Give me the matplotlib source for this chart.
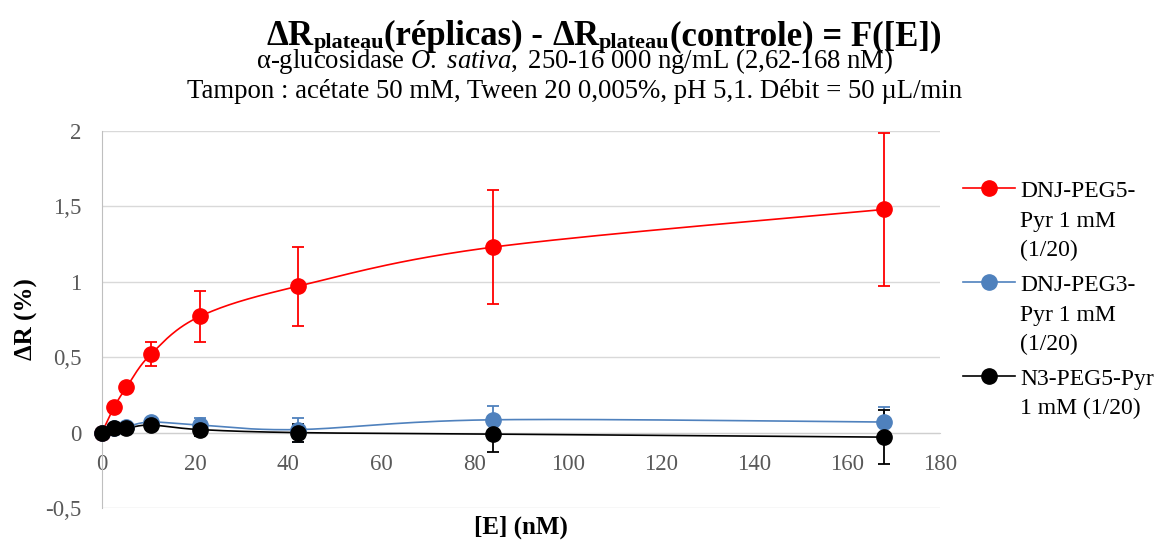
import numpy as np
import matplotlib
matplotlib.use("Agg")
import matplotlib.pyplot as plt
from matplotlib.lines import Line2D

# data
conc_nM = [0, 2.62, 5.25, 10.5, 21, 42, 84, 168]

peg5_dnj = [0, 0.17, 0.30, 0.52, 0.77, 0.97, 1.23, 1.48]
peg5_dnj_err = [0, 0.0, 0.0, 0.08, 0.17, 0.26, 0.38, 0.51]

peg3_dnj = [0, 0.03, 0.04, 0.07, 0.05, 0.02, 0.085, 0.07]
peg3_dnj_err = [0, 0.01, 0.01, 0.03, 0.05, 0.08, 0.09, 0.10]

n3_peg5 = [0, 0.03, 0.03, 0.05, 0.02, 0.0, -0.01, -0.03]
n3_peg5_err = [0, 0.01, 0.01, 0.03, 0.04, 0.06, 0.12, 0.18]

labels = [["DNJ-PEG5-", "Pyr 1 mM", "(1/20)"],
          ["DNJ-PEG3-", "Pyr 1 mM", "(1/20)"],
          ["N3-PEG5-Pyr", "1 mM (1/20)"]]
colors = ["#ff0000", "#4f81bd", "#000000"]

plt.rcParams["font.family"] = ["Liberation Serif", "DejaVu Serif"]
plt.rcParams["mathtext.fontset"] = "custom"
plt.rcParams["mathtext.rm"] = "Liberation Serif"
plt.rcParams["mathtext.bf"] = "Liberation Serif:bold"
plt.rcParams["mathtext.it"] = "Liberation Serif:italic"


def smooth(x, y, n=30):
    # Excel-like smoothed line (bezier through the points)
    x = np.asarray(x, float)
    y = np.asarray(y, float)
    px, py = [], []
    for i in range(len(x) - 1):
        x0, y0 = (x[i - 1], y[i - 1]) if i > 0 else (x[i], y[i])
        x3, y3 = (x[i + 2], y[i + 2]) if i + 2 < len(x) else (x[i + 1], y[i + 1])
        c1x = x[i] + (x[i + 1] - x0) / 6
        c1y = y[i] + (y[i + 1] - y0) / 6
        c2x = x[i + 1] - (x3 - x[i]) / 6
        c2y = y[i + 1] - (y3 - y[i]) / 6
        t = np.linspace(0, 1, n)
        px.extend((1 - t) ** 3 * x[i] + 3 * (1 - t) ** 2 * t * c1x + 3 * (1 - t) * t ** 2 * c2x + t ** 3 * x[i + 1])
        py.extend((1 - t) ** 3 * y[i] + 3 * (1 - t) ** 2 * t * c1y + 3 * (1 - t) * t ** 2 * c2y + t ** 3 * y[i + 1])
    return px, py


W, H = 1159, 542
fig = plt.figure(figsize=(W / 100, H / 100), dpi=100)
ax = fig.add_axes([102 / W, 1 - 508 / H, 838 / W, 377 / H])

series = [(peg5_dnj, peg5_dnj_err), (peg3_dnj, peg3_dnj_err), (n3_peg5, n3_peg5_err)]
for (vals, errs), col in zip(series, colors):
    sx, sy = smooth(conc_nM, vals)
    ax.plot(sx, sy, color=col, lw=1.2, zorder=3)
    ax.errorbar(conc_nM, vals, yerr=errs, fmt="none", ecolor=col, elinewidth=1.3,
                capsize=4.3, capthick=1.3, zorder=4)
    ax.plot(conc_nM, vals, "o", color=col, ms=11, zorder=5, clip_on=False)

ax.set_xlim(0, 180)
ax.set_ylim(-0.5, 2)
ax.set_xticks(np.arange(0, 181, 20))
ax.set_yticks([-0.5, 0, 0.5, 1, 1.5, 2])
ax.set_yticklabels(["-0,5", "0", "0,5", "1", "1,5", "2"])
ax.grid(axis="y", color="#d9d9d9", lw=1.0, zorder=0)
ax.set_axisbelow(True)

ax.spines["bottom"].set_position(("data", 0))
ax.spines["top"].set_visible(False)
ax.spines["right"].set_visible(False)
ax.spines["bottom"].set_color("#cfcfcf")
ax.spines["left"].set_color("#bfbfbf")
ax.spines["bottom"].set_zorder(1)
ax.tick_params(axis="both", length=0, labelsize=16.5, labelcolor="#595959")
ax.tick_params(axis="x", pad=15.5)
ax.tick_params(axis="y", pad=15)

ax.set_ylabel("ΔR (%)", fontsize=18, fontweight="bold")
ax.yaxis.set_label_coords(-0.076, 0.5)
fig.text(521 / W, 1 - 527 / H, "[E] (nM)", ha="center", va="center", fontsize=18, fontweight="bold")

# title line 1, laid out piece by piece (big subscripts like the Excel title)
title_pieces = [("ΔR", 25, 0), ("plateau", 16, 3), ("(réplicas) -", 25, 0), (None, 0, 0),
                ("ΔR", 25, 0), ("plateau", 16, 3), ("(controle) = F([E])", 25, 0)]
renderer = fig.canvas.get_renderer()
space_px = 0.25 * 25 * 100 / 72
made, total = [], 0.0
for txt, size, dy in title_pieces:
    if txt is None:
        made.append((None, space_px, 0))
        total += space_px
        continue
    t = fig.text(0, 0, txt, fontsize=size, fontweight="bold", va="baseline", ha="left")
    w = t.get_window_extent(renderer).width
    made.append((t, w, dy))
    total += w
x_px = 604 - total / 2
for t, w, dy in made:
    if t is not None:
        t.set_position((x_px / W, 1 - (45 + dy) / H))
    x_px += w

fig.text(575 / W, 1 - 68 / H, r"α-glucosidase $\mathit{O.\ sativa,}$ 250-16 000 ng/mL (2,62-168 nM)",
         ha="center", va="baseline", fontsize=19.3)
fig.text(575 / W, 1 - 98 / H, "Tampon : acétate 50 mM, Tween 20 0,005%, pH 5,1. Débit = 50 µL/min",
         ha="center", va="baseline", fontsize=19.3)

# legend, drawn by hand so the marker sits on the first text line
legend_rows = [188, 282, 376]
for row, col, lines in zip(legend_rows, colors, labels):
    fy = 1 - row / H
    fig.add_artist(Line2D([963 / W, 1015 / W], [fy, fy], color=col, lw=1.2,
                          transform=fig.transFigure))
    fig.add_artist(Line2D([989 / W], [fy], marker="o", ms=11, color=col,
                          transform=fig.transFigure))
    for k, txt in enumerate(lines):
        fig.text(1020 / W, 1 - (row + 9 + 29.5 * k) / H, txt, ha="left", va="baseline", fontsize=17)

fig.savefig("out.png", dpi=100)
